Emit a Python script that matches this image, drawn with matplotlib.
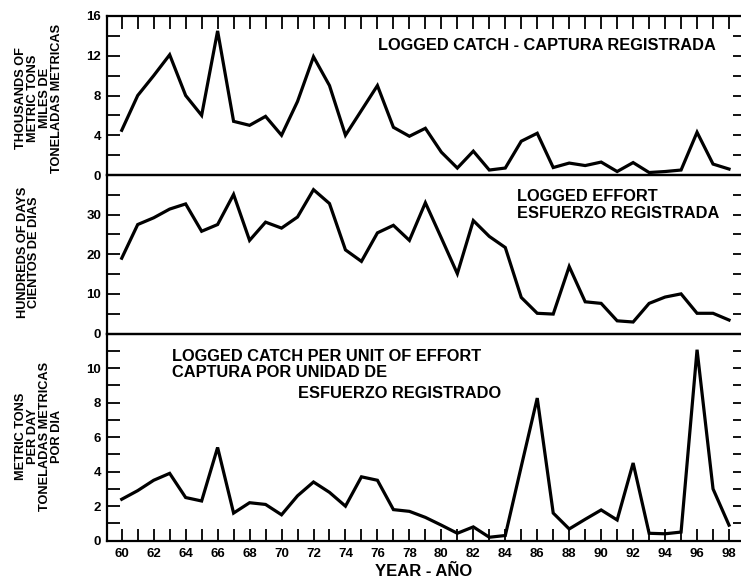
import matplotlib
matplotlib.use("Agg")
import matplotlib.pyplot as plt
from matplotlib.ticker import MultipleLocator

plt.rcParams['font.family'] = ['Liberation Sans', 'DejaVu Sans']
plt.rcParams['font.weight'] = 'bold'

years = list(range(1960, 1999))
catch = [4.5, 8.0, 10.0, 12.1, 8.0, 6.0, 14.5, 5.4, 5.0, 5.9, 4.0, 7.4, 11.9, 9.0,
         4.0, 6.5, 9.0, 4.8, 3.9, 4.7, 2.3, 0.7, 2.4, 0.5, 0.7, 3.4, 4.2, 0.75,
         1.2, 0.95, 1.3, 0.35, 1.25, 0.25, 0.35, 0.5, 4.3, 1.1, 0.6]
effort = [19.0, 27.5, 29.2, 31.4, 32.7, 25.8, 27.5, 35.1, 23.5, 28.1, 26.6, 29.4, 36.3,
          32.8, 21.1, 18.2, 25.4, 27.3, 23.5, 33.0, 24.1, 15.1, 28.5, 24.5, 21.7, 9.1,
          5.1, 4.9, 16.9, 8.0, 7.6, 3.2, 2.9, 7.6, 9.2, 10.0, 5.1, 5.1, 3.4]
cpue = [2.4, 2.9, 3.5, 3.9, 2.5, 2.3, 5.4, 1.6, 2.2, 2.1, 1.5, 2.6, 3.4, 2.8, 2.0,
        3.7, 3.5, 1.8, 1.7, 1.35, 0.9, 0.43, 0.8, 0.2, 0.3, 4.3, 8.26, 1.6, 0.68,
        1.24, 1.78, 1.2, 4.5, 0.43, 0.4, 0.5, 11.06, 3.0, 0.9]
x = [y - 1900 for y in years]
xtick_labels = [str(v) for v in range(60, 99, 2)]

W, H = 741, 580
fig = plt.figure(figsize=(W / 100, H / 100), dpi=100)

left_px, right_px = 106.7, 745
def pos(top_px, bot_px):
    return [left_px / W, 1 - bot_px / H, (right_px - left_px) / W, (bot_px - top_px) / H]

ax1 = fig.add_axes(pos(16, 175))
ax2 = fig.add_axes(pos(175, 333.5))
ax3 = fig.add_axes(pos(333.5, 540.7))

specs = [
    (ax1, catch, 16, 4, 2),
    (ax2, effort, 40, 10, 5),
    (ax3, cpue, 12, 2, 1),
]
for ax, vals, ymax, major, minor in specs:
    ax.plot(x, vals, color='black', lw=2.3, solid_joinstyle='miter')
    ax.set_xlim(59.06, 99.0)
    ax.set_ylim(0, ymax)
    ax.yaxis.set_major_locator(MultipleLocator(major))
    ax.yaxis.set_minor_locator(MultipleLocator(minor))
    ax.tick_params(axis='y', which='both', direction='in', left=True, right=True,
                   length=9, width=1.3, labelsize=9.5, pad=4)
    for s in ax.spines.values():
        s.set_linewidth(1.6)
    ax.spines['right'].set_visible(False)
    ax.set_facecolor('none')

ax1.set_yticks([0, 4, 8, 12, 16])
ax1.set_yticklabels(['0', '4', '8', '12', '16'])
ax2.set_yticks([0, 10, 20, 30, 40])
ax2.set_yticklabels(['0', '10', '20', '30', ''])
ax3.set_yticks([0, 2, 4, 6, 8, 10, 12])
ax3.set_yticklabels(['0', '2', '4', '6', '8', '10', ''])
for ax in (ax1, ax2, ax3):
    for lab in ax.get_yticklabels():
        lab.set_fontweight('bold')

ax1.xaxis.set_major_locator(MultipleLocator(1))
ax1.tick_params(axis='x', which='both', top=True, bottom=False, direction='in',
                length=9, width=1.3, labelbottom=False, labeltop=False)
ax2.tick_params(axis='x', which='both', top=False, bottom=False,
                labelbottom=False)
ax3.set_xticks(list(range(60, 99, 2)))
ax3.set_xticklabels(xtick_labels)
ax3.xaxis.set_minor_locator(MultipleLocator(1))
ax3.tick_params(axis='x', which='both', top=False, bottom=True, direction='in',
                length=9, width=1.3, labelsize=9.5, pad=5)
for lab in ax3.get_xticklabels():
    lab.set_fontweight('bold')

# y labels
ylab_kw = dict(rotation=90, ha='center', va='center', multialignment='center',
               fontsize=9.2, fontweight='bold', linespacing=0.98)
fig.text(39 / W, 1 - 98 / H,
         "THOUSANDS OF\nMETRIC TONS\nMILES DE\nTONELADAS METRICAS", **ylab_kw)
fig.text(28.5 / W, 1 - 252 / H, "HUNDREDS OF DAYS\nCIENTOS DE DIAS", **ylab_kw)
fig.text(39 / W, 1 - 436 / H,
         "METRIC TONS\nPER DAY\nTONELADAS METRICAS\nPOR DIA", **ylab_kw)

fig.text(424 / W, 1 - 572 / H, "YEAR - AÑO", ha='center', va='center',
         fontsize=12, fontweight='bold')

# panel titles
t_kw = dict(fontsize=11.8, fontweight='bold', va='center', ha='left', linespacing=1.15)
fig.text(378 / W, 1 - 45 / H, "LOGGED CATCH - CAPTURA REGISTRADA", **t_kw)
fig.text(516.7 / W, 1 - 205 / H, "LOGGED EFFORT\nESFUERZO REGISTRADA", **t_kw)
fig.text(171.7 / W, 1 - 364.5 / H,
         "LOGGED CATCH PER UNIT OF EFFORT\nCAPTURA POR UNIDAD DE", **t_kw)
fig.text(298 / W, 1 - 394 / H, "ESFUERZO REGISTRADO", **t_kw)

fig.savefig("out.png", dpi=100)
